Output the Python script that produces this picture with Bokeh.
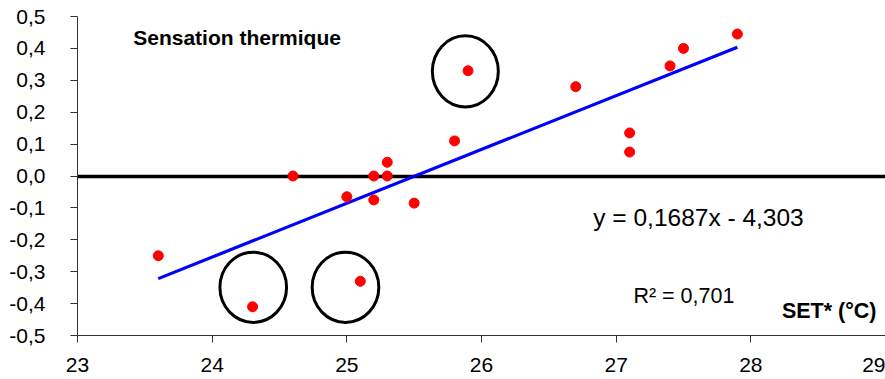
from bokeh.plotting import figure
from bokeh.models import Range1d, FixedTicker, Label
from bokeh.embed import file_html
from bokeh.resources import INLINE

# --- data -------------------------------------------------------------
set_temp = [23.6, 24.3, 24.6, 25.0, 25.2, 25.5, 25.1, 25.2, 25.3, 25.3,
            25.8, 25.9, 26.7, 27.1, 27.1, 27.4, 27.5, 27.9]
sensation = [-0.25, -0.41, 0.0, -0.065, -0.075, -0.085, -0.33, 0.0, 0.0, 0.043,
             0.11, 0.33, 0.28, 0.135, 0.075, 0.345, 0.40, 0.445]

trend_slope = 0.1687
trend_intercept = -4.303
r_squared_text = "R² = 0,701"
equation_text = "y = 0,1687x - 4,303"

# highlighted points (circled)
circle_x = [25.88, 24.305, 24.99]
circle_y = [0.328, -0.349, -0.349]
circle_w = [0.49, 0.495, 0.495]
circle_h = [0.223, 0.22, 0.22]

x_ticks = [23, 24, 25, 26, 27, 28, 29]
x_tick_labels = ["23", "24", "25", "26", "27", "28", "29"]
y_ticks = [-0.5, -0.4, -0.3, -0.2, -0.1, 0.0, 0.1, 0.2, 0.3, 0.4, 0.5]
y_tick_labels = ["-0,5", "-0,4", "-0,3", "-0,2", "-0,1", "0,0",
                 "0,1", "0,2", "0,3", "0,4", "0,5"]

title_text = "Sensation thermique"
x_title = "SET* (°C)"

FONT = "Liberation Sans"

# --- figure -----------------------------------------------------------
p = figure(width=885, height=379, output_backend="svg", toolbar_location=None,
           x_range=Range1d(23, 29), y_range=Range1d(-0.5, 0.5),
           min_border_left=77, min_border_right=0, min_border_top=16,
           min_border_bottom=44)
p.outline_line_color = None
p.grid.visible = False
p.background_fill_color = "white"
p.border_fill_color = "white"

# axes
p.yaxis.ticker = FixedTicker(ticks=y_ticks)
p.yaxis.major_label_overrides = {t: l for t, l in zip(y_ticks, y_tick_labels)}
p.yaxis.major_label_standoff = 25
p.xaxis.ticker = FixedTicker(ticks=x_ticks)
p.xaxis.major_label_overrides = {t: l for t, l in zip(x_ticks, x_tick_labels)}
p.xaxis.major_label_standoff = 15
for ax in (p.xaxis, p.yaxis):
    ax.minor_tick_line_color = None
    ax.major_tick_in = 0
    ax.major_tick_out = 7
    ax.axis_line_color = "#333333"
    ax.major_tick_line_color = "#333333"
    ax.axis_line_width = 1
    ax.major_label_text_font = FONT
    ax.major_label_text_font_size = "21px"
    ax.major_label_text_color = "black"

# zero line
p.hspan(y=[0.0], line_color="black", line_width=3.5)

# trend line
tx = [min(set_temp), max(set_temp)]
ty = [trend_slope * v + trend_intercept for v in tx]
p.line(tx, ty, line_color="#0000FF", line_width=3.2)

# points
p.scatter(set_temp, sensation, size=10, fill_color="#FF0000", line_color="#FF0000")

# highlight circles
p.ellipse(x=circle_x, y=circle_y, width=circle_w, height=circle_h,
          fill_color=None, line_color="black", line_width=3)

# texts
p.add_layout(Label(x=23.414, y=0.434, text=title_text, text_font=FONT, text_font_size="21px",
                   text_font_style="bold", text_color="black", text_baseline="alphabetic"))
p.add_layout(Label(x=26.83, y=-0.131, text=equation_text, text_font=FONT, text_font_size="24.5px",
                   text_color="black", text_baseline="alphabetic"))
p.add_layout(Label(x=27.128, y=-0.375, text=r_squared_text, text_font=FONT, text_font_size="21.5px",
                   text_color="black", text_baseline="alphabetic"))
p.add_layout(Label(x=28.933, y=-0.423, text=x_title, text_font=FONT, text_font_size="21.5px",
                   text_font_style="bold", text_color="black", text_baseline="alphabetic",
                   text_align="right"))

open("out.html", "w").write(file_html(p, INLINE))
